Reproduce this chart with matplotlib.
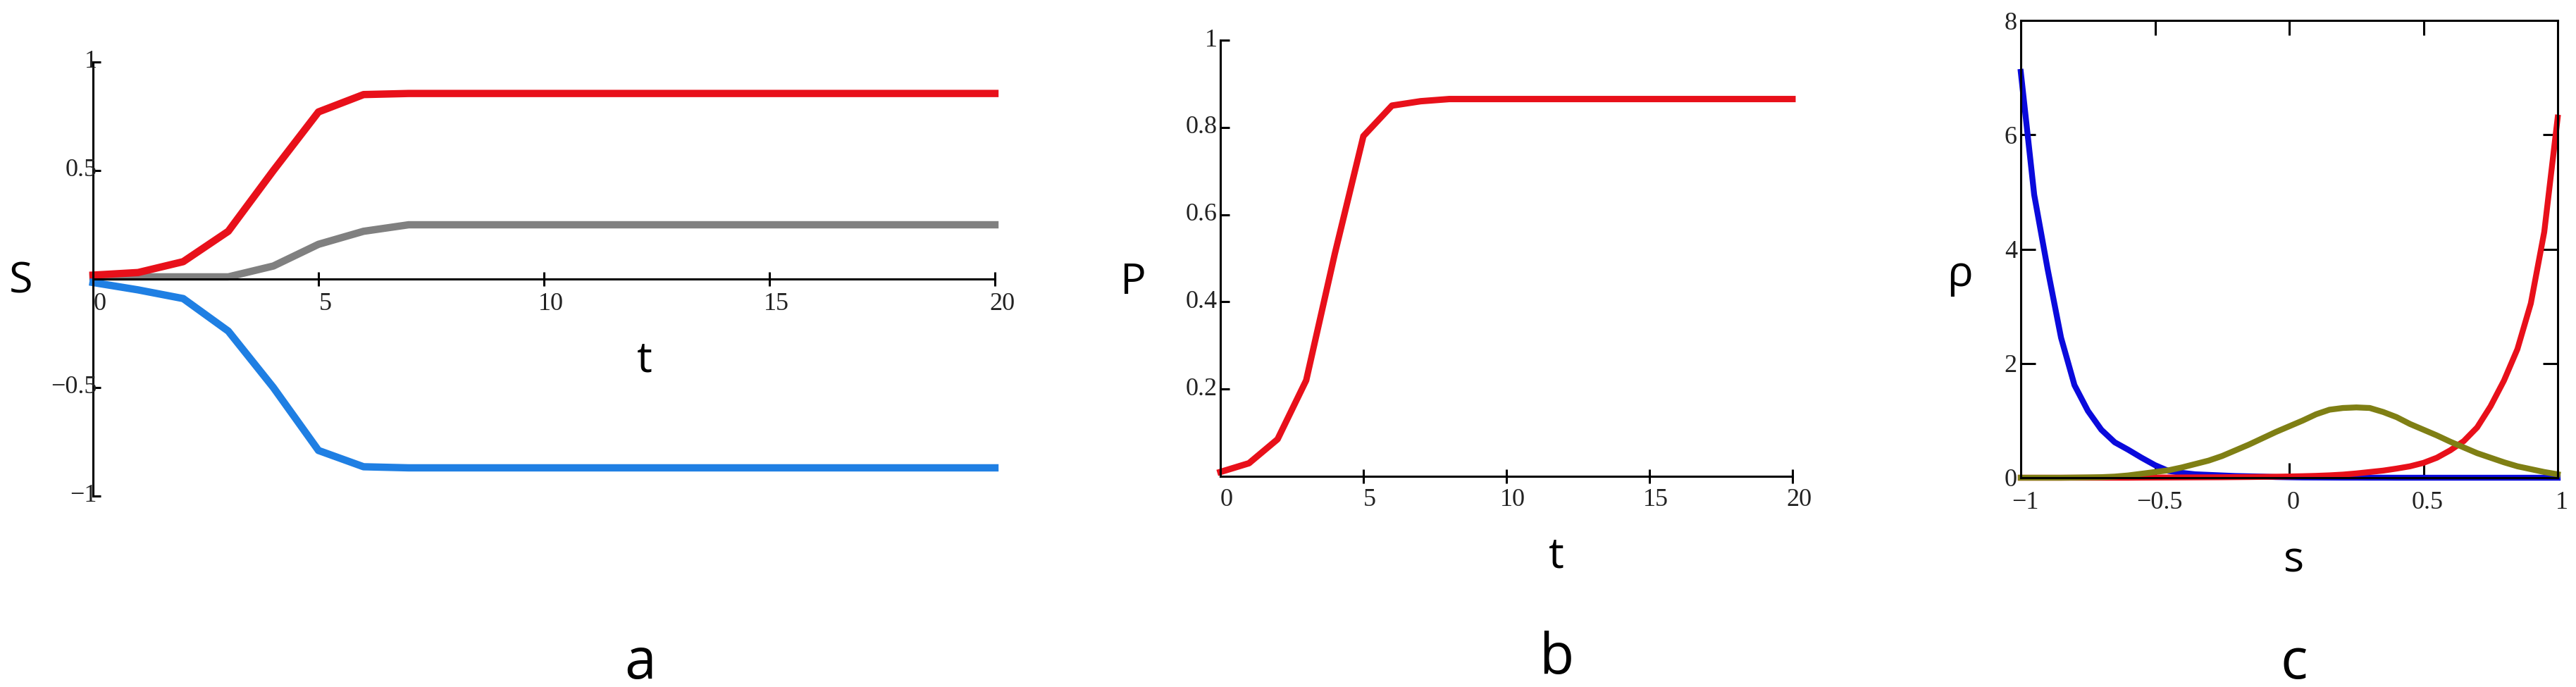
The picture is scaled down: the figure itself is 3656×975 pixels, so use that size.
import matplotlib
matplotlib.use("Agg")
import matplotlib.pyplot as plt

# ---- data ----
# panel a: S(t) for three groups
t_a = [0, 1, 2, 3, 4, 5, 6, 7, 8, 9, 10, 11, 12, 13, 14, 15, 16, 17, 18, 19, 20]
s_red = [0.018, 0.03, 0.08, 0.22, 0.50, 0.77, 0.85, 0.855, 0.855, 0.855, 0.855,
         0.855, 0.855, 0.855, 0.855, 0.855, 0.855, 0.855, 0.855, 0.855, 0.855]
s_gray = [0.01, 0.01, 0.01, 0.01, 0.06, 0.16, 0.22, 0.25, 0.25, 0.25, 0.25,
          0.25, 0.25, 0.25, 0.25, 0.25, 0.25, 0.25, 0.25, 0.25, 0.25]
s_blue = [-0.016, -0.05, -0.09, -0.24, -0.50, -0.79, -0.865, -0.87, -0.87, -0.87, -0.87,
          -0.87, -0.87, -0.87, -0.87, -0.87, -0.87, -0.87, -0.87, -0.87, -0.87]

# panel b: P(t)
t_b = [0, 1, 2, 3, 4, 5, 6, 7, 8, 9, 10, 11, 12, 13, 14, 15, 16, 17, 18, 19, 20]
p_b = [0.01, 0.03, 0.085, 0.22, 0.51, 0.78, 0.85, 0.86, 0.865, 0.865, 0.865,
       0.865, 0.865, 0.865, 0.865, 0.865, 0.865, 0.865, 0.865, 0.865, 0.865]

# panel c: rho(s)
s_c = [-1.00, -0.95, -0.90, -0.85, -0.80, -0.75, -0.70, -0.65, -0.60, -0.55,
       -0.50, -0.45, -0.40, -0.35, -0.30, -0.25, -0.20, -0.15, -0.10, -0.05,
       0.00, 0.05, 0.10, 0.15, 0.20, 0.25, 0.30, 0.35, 0.40, 0.45,
       0.50, 0.55, 0.60, 0.65, 0.70, 0.75, 0.80, 0.85, 0.90, 0.95, 1.00]
rho_blue = [7.10, 4.95, 3.65, 2.45, 1.62, 1.17, 0.84, 0.62, 0.49, 0.35,
            0.22, 0.12, 0.085, 0.06, 0.05, 0.04, 0.03, 0.025, 0.02, 0.012,
            0.008, 0.005, 0.004, 0.003, 0.002, 0.002, 0.001, 0.001, 0.0, 0.0,
            0.0, 0.0, 0.0, 0.0, 0.0, 0.0, 0.0, 0.0, 0.0, 0.0, 0.0]
rho_red = [0.0, 0.0, 0.0, 0.0, 0.0, 0.0, 0.0, 0.0, 0.0, 0.002,
           0.003, 0.004, 0.005, 0.006, 0.007, 0.008, 0.01, 0.012, 0.015, 0.018,
           0.022, 0.027, 0.033, 0.042, 0.055, 0.075, 0.10, 0.125, 0.16, 0.20,
           0.26, 0.35, 0.48, 0.64, 0.88, 1.25, 1.70, 2.25, 3.05, 4.30, 6.30]
rho_olive = [0.0, 0.0, 0.0, 0.0, 0.003, 0.006, 0.01, 0.02, 0.04, 0.07,
             0.10, 0.13, 0.18, 0.24, 0.30, 0.38, 0.48, 0.58, 0.69, 0.80,
             0.90, 1.00, 1.11, 1.19, 1.22, 1.23, 1.22, 1.15, 1.06, 0.94,
             0.84, 0.74, 0.63, 0.53, 0.43, 0.35, 0.27, 0.20, 0.15, 0.10, 0.06]

xt_a = [0, 5, 10, 15, 20]
yt_a = [1, 0.5, -0.5, -1]
yt_a_lbl = ["1", "0.5", "\u22120.5", "\u22121"]
xt_b = [0, 5, 10, 15, 20]
yt_b = [0.2, 0.4, 0.6, 0.8, 1]
yt_b_lbl = ["0.2", "0.4", "0.6", "0.8", "1"]
xt_c = [-1, -0.5, 0, 0.5, 1]
xt_c_lbl = ["\u22121", "\u22120.5", "0", "0.5", "1"]
yt_c = [0, 2, 4, 6, 8]

W, H = 3656, 975
fig = plt.figure(figsize=(W / 100, H / 100), dpi=100)

TICKFONT = dict(family="Liberation Serif", fontsize=26, color="#222222")
LBLFONT = dict(family="Open Sans", fontsize=44, color="black")
PANFONT = dict(family="Open Sans", fontsize=58, color="black")


def px_axes(x0, x1, y_top, y_bot):
    return fig.add_axes([x0 / W, 1 - y_bot / H, (x1 - x0) / W, (y_bot - y_top) / H])


def tick_text(ax, x, y, s, dx, dy, ha="center"):
    ax.annotate(s, (x, y), xytext=(dx, dy), textcoords="offset pixels",
                ha=ha, va="center", annotation_clip=False, **TICKFONT)


def fig_text(x, y, s, font):
    fig.text(x / W, 1 - y / H, s, ha="center", va="center", **font)


def cross_axes(ax):
    for side in ["top", "right"]:
        ax.spines[side].set_visible(False)
    ax.spines["left"].set_position(("data", 0))
    ax.spines["bottom"].set_position(("data", 0))
    for side in ["left", "bottom"]:
        ax.spines[side].set_linewidth(2.2)
    ax.tick_params(labelbottom=False, labelleft=False, width=2.2, color="black")


# ---- panel a ----
ax = px_axes(132, 1412, 88, 704)
ax.plot(t_a, s_gray, color="#808080", lw=7.5, clip_on=False, solid_joinstyle="round")
ax.plot(t_a, s_red, color="#e8101a", lw=7.5, clip_on=False, solid_joinstyle="round")
ax.plot(t_a, s_blue, color="#1f7fe3", lw=7.5, clip_on=False, solid_joinstyle="round")
ax.set_xlim(0, 20)
ax.set_ylim(-1, 1)
cross_axes(ax)
ax.set_xticks(xt_a[1:])
ax.set_yticks(yt_a)
ax.tick_params(axis="x", direction="inout", length=15)
ax.tick_params(axis="y", direction="in", length=8)
for v in xt_a:
    tick_text(ax, v, 0, str(v), 10, -36)
for v, s in zip(yt_a, yt_a_lbl):
    tick_text(ax, 0, v, s, 6, 0, ha="right")
fig_text(30, 400, "S", LBLFONT)
fig_text(915, 512, "t", LBLFONT)
fig_text(909, 942, "a", PANFONT)

# ---- panel b ----
ax = px_axes(1732, 2544, 57, 676)
ax.plot(t_b, p_b, color="#e8101a", lw=6.5, clip_on=False, solid_joinstyle="round")
ax.set_xlim(0, 20)
ax.set_ylim(0, 1)
cross_axes(ax)
ax.set_xticks(xt_b[1:])
ax.set_yticks(yt_b)
ax.tick_params(axis="x", direction="inout", length=15)
ax.tick_params(axis="y", direction="in", length=9)
for v in xt_b:
    tick_text(ax, v, 0, str(v), 9, -34)
for v, s in zip(yt_b, yt_b_lbl):
    tick_text(ax, 0, v, s, -4, 0, ha="right")
fig_text(1608, 401, "P", LBLFONT)
fig_text(2209, 790, "t", LBLFONT)
fig_text(2209, 935, "b", PANFONT)

# ---- panel c ----
ax = px_axes(2868, 3630, 29, 678)
ax.plot(s_c, rho_blue, color="#0a0adc", lw=6, clip_on=False, solid_joinstyle="round")
ax.plot(s_c, rho_red, color="#e8101a", lw=6, clip_on=False, solid_joinstyle="round")
ax.plot(s_c, rho_olive, color="#7f7f14", lw=6, clip_on=False, solid_joinstyle="round")
ax.set_xlim(-1, 1)
ax.set_ylim(0, 8)
for sp in ax.spines.values():
    sp.set_linewidth(2.2)
ax.set_xticks(xt_c[1:-1])
ax.set_yticks(yt_c[1:-1])
ax.tick_params(direction="in", length=15, width=2.2, top=True, right=True,
               labelbottom=False, labelleft=False)
for v, s in zip(xt_c, xt_c_lbl):
    tick_text(ax, v, 0, s, 6, -36)
for v in yt_c:
    tick_text(ax, -1, v, str(v), -5, -4, ha="right")
fig_text(2782, 391, "\u03c1", LBLFONT)
fig_text(3256, 796, "s", LBLFONT)
fig_text(3256, 942, "c", PANFONT)

fig.savefig("out.png", dpi=100, facecolor="white")
